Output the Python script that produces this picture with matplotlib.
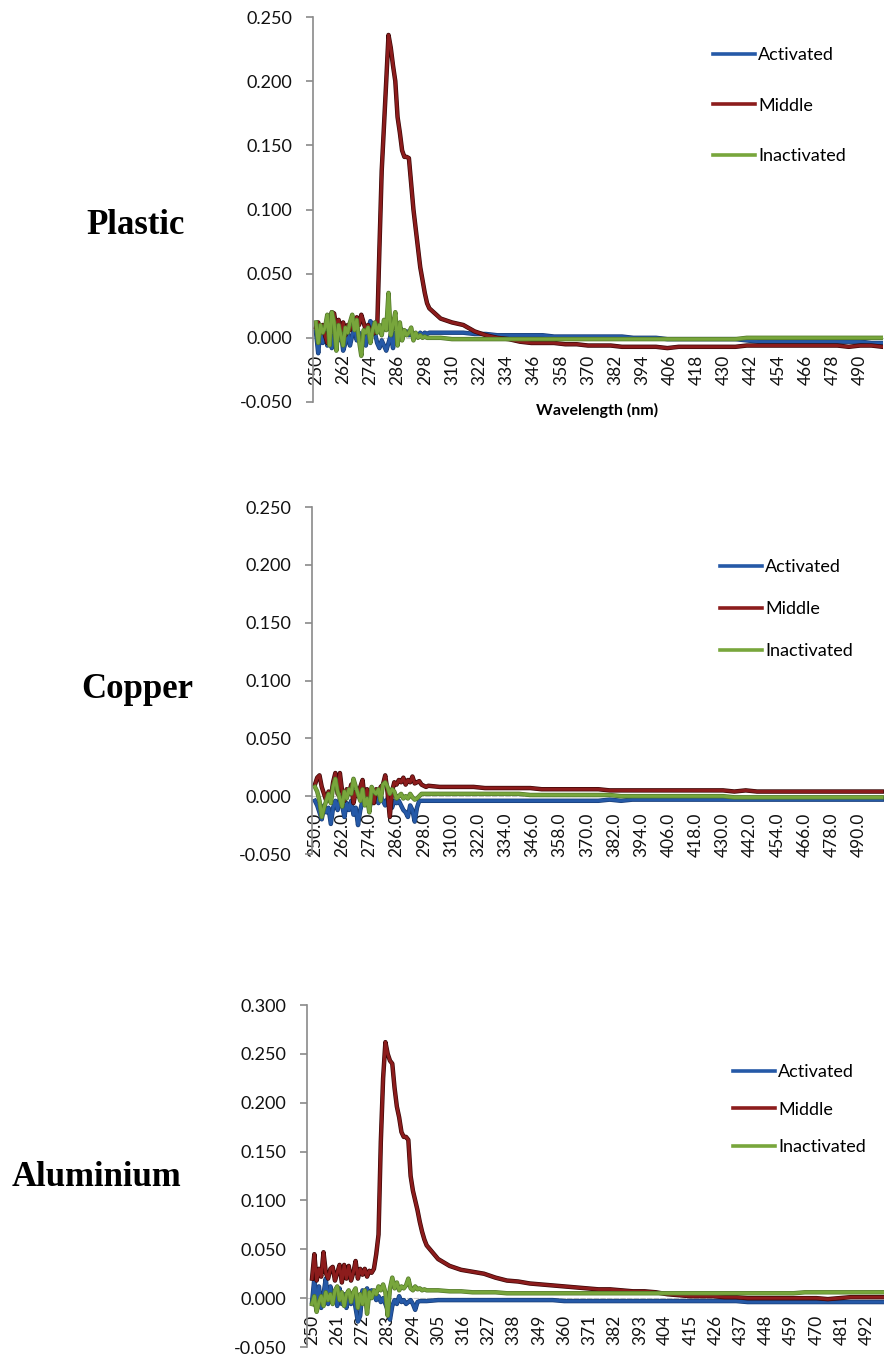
import matplotlib
matplotlib.use('Agg')
import matplotlib.pyplot as plt
import matplotlib.patheffects as pe

plt.rcParams['font.family'] = 'Lato'
plt.rcParams['axes.unicode_minus'] = False

################################################################################
##                          DATA
################################################################################
series_names = ['Activated', 'Middle', 'Inactivated']
sample_names = ['Plastic', 'Copper', 'Aluminium']

# wavelengths (nm): 1 nm steps over the noisy region, 5 nm steps in the tail
wl = list(range(250, 301)) + list(range(305, 501, 5))

plastic_act = [0.005, -0.012, 0.008, -0.004, 0.006, -0.006, 0.004, -0.008, 0.002, 0.008,
               -0.002, 0.006, -0.010, -0.004, 0.004, -0.006, 0.002, 0.008, -0.002, 0.004,
               -0.008, 0.002, -0.006, 0.006, 0.013, 0.010, 0.004, -0.004, -0.008, -0.002,
               -0.006, -0.010, -0.004, 0.002, -0.008, 0.004, -0.004, 0.008, 0.006, 0.003,
               0.005, 0.002, 0.004, 0.000, 0.003, 0.001, 0.004, 0.002, 0.004, 0.003,
               0.004,
               0.004, 0.004, 0.004, 0.003, 0.003, 0.002, 0.002, 0.002, 0.002, 0.002,
               0.001, 0.001, 0.001, 0.001, 0.001, 0.001, 0.001, 0.000, 0.000, 0.000,
               -0.001, -0.001, -0.001, -0.001, -0.001, -0.001, -0.001, -0.002, -0.003, -0.003,
               -0.003, -0.003, -0.003, -0.003, -0.003, -0.003, -0.003, -0.003, -0.004, -0.004]
plastic_mid = [0.008, 0.012, 0.004, 0.010, 0.002, -0.004, 0.012, 0.020, 0.019, 0.008,
               0.014, 0.004, 0.012, 0.002, 0.010, 0.006, 0.014, 0.008, 0.016, 0.010,
               0.018, 0.012, 0.006, 0.010, 0.004, 0.003, 0.004, 0.006, 0.070, 0.130,
               0.165, 0.200, 0.236, 0.226, 0.212, 0.200, 0.172, 0.160, 0.146, 0.141,
               0.141, 0.140, 0.120, 0.100, 0.085, 0.070, 0.055, 0.045, 0.035, 0.027,
               0.023,
               0.015, 0.012, 0.010, 0.005, 0.002, 0.000, -0.001, -0.003, -0.004, -0.004,
               -0.004, -0.005, -0.005, -0.006, -0.006, -0.006, -0.007, -0.007, -0.007, -0.007,
               -0.008, -0.007, -0.007, -0.007, -0.007, -0.007, -0.007, -0.006, -0.006, -0.006,
               -0.006, -0.006, -0.006, -0.006, -0.006, -0.006, -0.007, -0.006, -0.006, -0.007]
plastic_ina = [0.012, -0.004, 0.010, 0.004, 0.008, 0.018, -0.006, 0.020, 0.012, -0.010,
               0.010, 0.002, -0.006, 0.008, 0.004, 0.012, 0.018, 0.006, 0.014, -0.002,
               -0.014, 0.006, 0.004, 0.008, -0.004, 0.006, 0.012, 0.004, 0.010, 0.002,
               0.014, 0.006, 0.035, 0.002, 0.010, 0.020, -0.006, 0.012, -0.002, 0.006,
               0.002, 0.004, 0.008, -0.002, 0.004, 0.000, 0.002, 0.000, 0.001, 0.000,
               0.000,
               0.000, -0.001, -0.001, -0.001, -0.001, -0.001, -0.001, -0.001, -0.001, -0.001,
               -0.001, -0.001, -0.001, -0.001, -0.001, -0.001, -0.001, -0.001, -0.001, -0.001,
               -0.001, -0.001, -0.001, -0.001, -0.001, -0.001, -0.001, 0.000, 0.000, 0.000,
               0.000, 0.000, 0.000, 0.000, 0.000, 0.000, 0.000, 0.000, 0.000, 0.000]

copper_act = [-0.004, -0.008, -0.014, -0.020, -0.008, -0.014, -0.010, -0.024, -0.010, -0.004,
              -0.012, -0.002, -0.008, -0.018, -0.006, -0.012, -0.004, -0.016, -0.010, -0.025,
              -0.012, -0.004, 0.002, -0.004, -0.010, -0.004, 0.004, -0.002, -0.006, 0.000,
              -0.004, -0.008, -0.002, -0.006, -0.010, -0.004, -0.006, -0.004, -0.008, -0.012,
              -0.014, -0.018, -0.008, -0.012, -0.022, -0.010, -0.004, -0.004, -0.004, -0.004,
              -0.004,
              -0.004, -0.004, -0.004, -0.004, -0.004, -0.004, -0.004, -0.004, -0.004, -0.004,
              -0.004, -0.004, -0.004, -0.004, -0.004, -0.003, -0.004, -0.003, -0.003, -0.003,
              -0.003, -0.003, -0.003, -0.003, -0.003, -0.003, -0.003, -0.003, -0.003, -0.003,
              -0.003, -0.003, -0.003, -0.003, -0.003, -0.003, -0.003, -0.003, -0.003, -0.003]
copper_mid = [0.010, 0.016, 0.018, 0.008, 0.002, -0.004, 0.004, -0.002, 0.012, 0.020,
              0.002, 0.020, 0.004, -0.004, 0.006, 0.002, 0.010, -0.006, 0.004, 0.000,
              0.008, 0.014, -0.004, 0.006, -0.008, 0.004, -0.006, 0.006, 0.002, 0.008,
              0.010, 0.018, 0.004, -0.018, 0.004, 0.012, 0.010, 0.014, 0.012, 0.016,
              0.010, 0.014, 0.012, 0.017, 0.011, 0.012, 0.013, 0.010, 0.009, 0.008,
              0.009,
              0.008, 0.008, 0.008, 0.008, 0.007, 0.007, 0.007, 0.007, 0.007, 0.006,
              0.006, 0.006, 0.006, 0.006, 0.006, 0.005, 0.005, 0.005, 0.005, 0.005,
              0.005, 0.005, 0.005, 0.005, 0.005, 0.005, 0.004, 0.005, 0.004, 0.004,
              0.004, 0.004, 0.004, 0.004, 0.004, 0.004, 0.004, 0.004, 0.004, 0.004]
copper_ina = [0.008, 0.004, -0.004, -0.018, -0.010, -0.004, 0.002, -0.006, 0.008, 0.015,
              0.004, -0.002, -0.009, 0.004, -0.002, 0.006, 0.002, 0.015, 0.008, 0.002,
              -0.004, 0.006, -0.008, -0.002, -0.014, 0.008, 0.004, 0.002, 0.006, -0.004,
              0.010, 0.012, 0.008, 0.002, 0.006, 0.004, -0.002, 0.000, 0.002, -0.002,
              0.000, -0.002, 0.002, -0.001, -0.003, -0.002, 0.000, 0.002, 0.002, 0.002,
              0.002,
              0.002, 0.002, 0.002, 0.002, 0.002, 0.002, 0.002, 0.002, 0.001, 0.001,
              0.001, 0.001, 0.001, 0.001, 0.001, 0.001, 0.000, 0.000, 0.000, 0.000,
              0.000, 0.000, 0.000, 0.000, 0.000, 0.000, -0.001, -0.001, -0.001, -0.001,
              -0.001, -0.001, -0.001, -0.001, -0.001, -0.001, -0.001, -0.001, -0.001, -0.001]

alu_act = [-0.004, 0.020, -0.004, 0.012, -0.010, 0.004, 0.020, -0.006, 0.012, -0.004,
           0.006, -0.008, 0.010, -0.006, 0.004, -0.010, 0.002, -0.006, 0.004, -0.010,
           -0.024, -0.018, 0.008, 0.004, 0.010, 0.002, 0.008, 0.004, -0.002, 0.002,
           -0.004, 0.000, -0.006, -0.012, -0.022, -0.008, -0.002, -0.006, 0.002, -0.004,
           -0.002, -0.006, -0.004, -0.002, -0.006, -0.012, -0.004, -0.003, -0.003, -0.003,
           -0.003,
           -0.002, -0.002, -0.002, -0.002, -0.002, -0.002, -0.002, -0.002, -0.002, -0.002,
           -0.002, -0.003, -0.003, -0.003, -0.003, -0.003, -0.003, -0.003, -0.003, -0.003,
           -0.003, -0.003, -0.003, -0.003, -0.003, -0.003, -0.003, -0.004, -0.004, -0.004,
           -0.004, -0.004, -0.004, -0.004, -0.004, -0.004, -0.004, -0.004, -0.004, -0.004]
alu_mid = [0.020, 0.045, 0.018, 0.030, 0.022, 0.047, 0.026, 0.020, 0.030, 0.032,
           0.018, 0.026, 0.034, 0.016, 0.034, 0.020, 0.033, 0.018, 0.026, 0.038,
           0.020, 0.030, 0.024, 0.030, 0.022, 0.028, 0.026, 0.030, 0.045, 0.065,
           0.160, 0.225, 0.262, 0.250, 0.243, 0.240, 0.215, 0.196, 0.185, 0.170,
           0.165, 0.165, 0.162, 0.125, 0.110, 0.100, 0.090, 0.078, 0.068, 0.060,
           0.054,
           0.040, 0.033, 0.029, 0.027, 0.025, 0.021, 0.018, 0.017, 0.015, 0.014,
           0.013, 0.012, 0.011, 0.010, 0.009, 0.009, 0.008, 0.007, 0.007, 0.006,
           0.004, 0.003, 0.002, 0.002, 0.002, 0.001, 0.001, 0.000, 0.000, 0.000,
           0.000, 0.000, 0.000, 0.000, -0.001, 0.000, 0.001, 0.001, 0.001, 0.001]
alu_ina = [-0.006, 0.002, -0.014, -0.004, 0.002, -0.008, 0.006, -0.002, 0.004, -0.006,
           0.008, 0.012, -0.002, 0.006, -0.008, 0.004, 0.008, -0.004, 0.006, 0.010,
           -0.010, 0.004, -0.006, 0.008, -0.016, 0.006, 0.000, 0.008, 0.004, 0.012,
           0.008, 0.014, 0.006, -0.018, 0.010, 0.021, 0.010, 0.016, 0.008, 0.012,
           0.010, 0.013, 0.020, 0.010, 0.008, 0.012, 0.009, 0.010, 0.008, 0.009,
           0.008,
           0.008, 0.007, 0.007, 0.006, 0.006, 0.006, 0.005, 0.005, 0.005, 0.005,
           0.005, 0.005, 0.005, 0.005, 0.005, 0.005, 0.005, 0.005, 0.005, 0.005,
           0.005, 0.005, 0.005, 0.005, 0.005, 0.005, 0.005, 0.005, 0.005, 0.005,
           0.005, 0.005, 0.006, 0.006, 0.006, 0.006, 0.006, 0.006, 0.006, 0.006]

plastic_yticks = [-0.05, 0.0, 0.05, 0.10, 0.15, 0.20, 0.25]
copper_yticks = [-0.05, 0.0, 0.05, 0.10, 0.15, 0.20, 0.25]
alu_yticks = [-0.05, 0.0, 0.05, 0.10, 0.15, 0.20, 0.25, 0.30]
plastic_xticks = list(range(250, 491, 12))
copper_xticks = list(range(250, 491, 12))
alu_xticks = list(range(250, 493, 11))

colors = ['#2559a7', '#8c1c1c', '#78a63c']
edges = ['#173c75', '#3a0606', '#52782a']

W, H = 884, 1356


def px_rect(x0, y0, x1, y1):
    return [x0 / W, 1 - y1 / H, (x1 - x0) / W, (y1 - y0) / H]


def draw_panel(rect, xlim, yticks, xticks, xfmt, data, leg_xy, spacing):
    ax = fig.add_axes(rect)
    # move the category axis to y = 0 first (this resets the ticks)
    ax.spines['bottom'].set_position(('data', 0))
    for vals, c, ec, name in zip(data, colors, edges, series_names):
        ax.plot(wl, vals, color=c, lw=2.2, label=name,
                path_effects=[pe.Stroke(linewidth=3.2, foreground=ec), pe.Normal()])
    ax.set_xlim(*xlim)
    ax.set_ylim(yticks[0], yticks[-1])
    ax.set_yticks(yticks)
    ax.set_yticklabels(['%.3f' % t for t in yticks])
    ax.set_xticks(xticks)
    ax.set_xticklabels([xfmt % t for t in xticks])
    ax.spines['top'].set_visible(False)
    ax.spines['right'].set_visible(False)
    ax.spines['left'].set_color('#8a8a8a')
    ax.spines['left'].set_linewidth(1.2)
    ax.spines['bottom'].set_color('#c8c8c8')
    ax.spines['bottom'].set_linestyle((0, (4, 2)))
    ax.spines['bottom'].set_zorder(0.5)
    ax.tick_params(axis='y', direction='out', length=5, width=1.2, color='#8a8a8a',
                   pad=10, labelsize=13, labelcolor='#111111')
    ax.tick_params(axis='x', length=0, pad=12, labelsize=12.5, labelcolor='#111111',
                   labelrotation=90)
    handles = [plt.Line2D([], [], color=c, lw=2.6) for c in colors]
    fig.legend(handles, series_names, loc='upper left',
               bbox_to_anchor=(leg_xy[0] / W, 1 - leg_xy[1] / H),
               frameon=False, fontsize=13, handlelength=2.3, handletextpad=0.2,
               labelspacing=spacing, borderpad=0, borderaxespad=0)
    return ax


fig = plt.figure(figsize=(W / 100, H / 100), dpi=100)

draw_panel(px_rect(313, 17, 883, 402), (248.7, 500.1), plastic_yticks, plastic_xticks, '%d',
           [plastic_act, plastic_mid, plastic_ina], (713, 47), 1.92)
draw_panel(px_rect(312, 507, 884, 854), (248.7, 501.0), copper_yticks, copper_xticks, '%.1f',
           [copper_act, copper_mid, copper_ina], (720, 559), 1.45)
draw_panel(px_rect(307, 1005, 884, 1347), (247.8, 499.5), alu_yticks, alu_xticks, '%d',
           [alu_act, alu_mid, alu_ina], (733, 1064), 1.2)

fig.text(597 / W, 1 - 410 / H, 'Wavelength (nm)', ha='center', va='center',
         fontsize=11.5, fontweight='bold')

label_pos = [(136, 225), (137, 690), (97, 1177)]
for name, (x, y) in zip(sample_names, label_pos):
    fig.text(x / W, 1 - y / H, name, ha='center', va='center', fontsize=25,
             fontweight='bold', family='Liberation Serif')

plt.savefig('out.png', dpi=100)
